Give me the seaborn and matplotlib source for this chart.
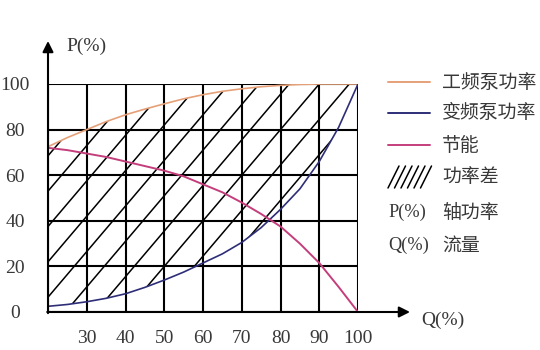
import numpy as np
import pandas as pd
import matplotlib
matplotlib.use("Agg")
import matplotlib.pyplot as plt
import seaborn as sns
from matplotlib.lines import Line2D

# ---- data ----
flow = [20, 25, 30, 35, 40, 45, 50, 55, 60, 65, 70, 75, 80, 85, 90, 95, 100]
power_fixed = [72.5, 76.5, 80, 83.5, 86.5, 89, 91.3, 93.5, 95.3, 96.8, 97.9, 98.8, 99.4, 99.8, 100, 100, 100]
power_vfd = [2.5, 3.3, 4.5, 6, 8, 10.8, 14, 17.5, 21.5, 25.5, 30.5, 37, 45, 54, 66, 81, 100]
saving = [72, 71, 69.5, 68, 66, 64, 62, 59.5, 56, 52.5, 48, 43, 37.5, 30, 21.5, 11, 0]
x_ticks = [30, 40, 50, 60, 70, 80, 90, 100]
y_ticks = [0, 20, 40, 60, 80, 100]
x_grid = [20, 30, 40, 50, 60, 70, 80, 90, 100]
series_names = ["工频泵功率", "变频泵功率", "节能"]
legend_extra = ["功率差", "轴功率", "流量"]
axis_p = "P(%)"
axis_q = "Q(%)"

colors = ["#E6A078", "#2E2E78", "#C43E7C"]

# hatch style (slope in data units, spacing along Q)
HATCH_SLOPE = 2.0
HATCH_STEP = 7.75
HATCH_ANCHOR = 40.0

sns.set_theme(style="white")
plt.rcParams["font.family"] = ["Liberation Serif", "Noto Sans CJK SC", "DejaVu Sans"]

W, H, DPI = 540, 350, 200
fig = plt.figure(figsize=(W / DPI, H / DPI), dpi=DPI)
fig.patch.set_facecolor("white")

def fx(px):
    return px / W

def fy(py):
    return 1 - py / H

L, R, T, B = 48, 358, 84, 312
ax = fig.add_axes([fx(L), fy(B), fx(R) - fx(L), fy(T) - fy(B)])
ax.set_xlim(20, 100)
ax.set_ylim(0, 100)

df = pd.DataFrame({"flow": flow, "fixed": power_fixed, "vfd": power_vfd, "saving": saving})

# region between the two power curves, hatched with clipped diagonal lines
region = ax.fill_between(df["flow"], df["vfd"], df["fixed"], facecolor="none",
                         edgecolor="none", linewidth=0, zorder=1)
clip_path = region.get_paths()[0]
qq = np.array([0.0, 100.0])
for k in range(-12, 8):
    c = HATCH_ANCHOR + k * HATCH_STEP
    ln, = ax.plot(c + qq / HATCH_SLOPE, qq, color="black", lw=0.55, zorder=1.5)
    ln.set_clip_path(clip_path, ax.transData)

# grid
for g in x_grid:
    ax.axvline(g, color="black", lw=0.75, zorder=2)
for g in y_ticks:
    ax.axhline(g, color="black", lw=0.75, zorder=2)

sns.lineplot(data=df, x="flow", y="fixed", ax=ax, color=colors[0], lw=0.6, zorder=3)
sns.lineplot(data=df, x="flow", y="vfd", ax=ax, color=colors[1], lw=0.6, zorder=3)
sns.lineplot(data=df, x="flow", y="saving", ax=ax, color=colors[2], lw=0.7, zorder=3)

for s in ax.spines.values():
    s.set_visible(False)
ax.set_xlabel("")
ax.set_ylabel("")
ax.set_xticks(x_ticks)
ax.set_yticks(y_ticks)
ax.tick_params(length=0, labelsize=7, colors="#383838")
ax.tick_params(axis="x", pad=6.5)
ax.tick_params(axis="y", pad=11.8)
for lab in ax.get_yticklabels():
    lab.set_horizontalalignment("center")

# axes with arrows
ax.annotate("", xy=(20, 100 + (T - 41) / (B - T) * 100), xytext=(20, -0.5),
            xycoords="data", annotation_clip=False,
            arrowprops=dict(arrowstyle="-|>", color="black", lw=0.75, mutation_scale=8, shrinkA=0, shrinkB=0))
ax.annotate("", xy=(20 + (410 - L) / (R - L) * 80, 0), xytext=(19.8, 0),
            xycoords="data", annotation_clip=False,
            arrowprops=dict(arrowstyle="-|>", color="black", lw=0.75, mutation_scale=8, shrinkA=0, shrinkB=0))

fig.text(fx(66), fy(46), axis_p, fontsize=7, color="#383838", va="center", ha="left")
fig.text(fx(421), fy(320), axis_q, fontsize=7, color="#383838", va="center", ha="left")

# legend (manual)
cjk = ["Noto Sans CJK SC", "DejaVu Sans"]
rows = [82, 113, 145, 177, 212, 245]
for i in range(3):
    fig.add_artist(Line2D([fx(388), fx(430)], [fy(rows[i])] * 2, color=colors[i], lw=0.7,
                          transform=fig.transFigure))
    fig.text(fx(442), fy(rows[i]), series_names[i], fontsize=6.8, color="#383838",
             va="center", ha="left", family=cjk)
# hatch sample: six slanted strokes
for k in range(6):
    x0 = 388 + k * 6.5
    fig.add_artist(Line2D([fx(x0), fx(x0 + 11)], [fy(188), fy(166)], color="black", lw=0.55,
                          transform=fig.transFigure))
fig.text(fx(442), fy(rows[3]), legend_extra[0], fontsize=6.8, color="#383838",
         va="center", ha="left", family=cjk)
fig.text(fx(388), fy(rows[4]), axis_p, fontsize=6.6, color="#383838", va="center", ha="left")
fig.text(fx(442), fy(rows[4]), legend_extra[1], fontsize=6.8, color="#383838",
         va="center", ha="left", family=cjk)
fig.text(fx(388), fy(rows[5]), axis_q, fontsize=6.6, color="#383838", va="center", ha="left")
fig.text(fx(442), fy(rows[5]), legend_extra[2], fontsize=6.8, color="#383838",
         va="center", ha="left", family=cjk)

fig.savefig("out.png", dpi=DPI, facecolor="white")
